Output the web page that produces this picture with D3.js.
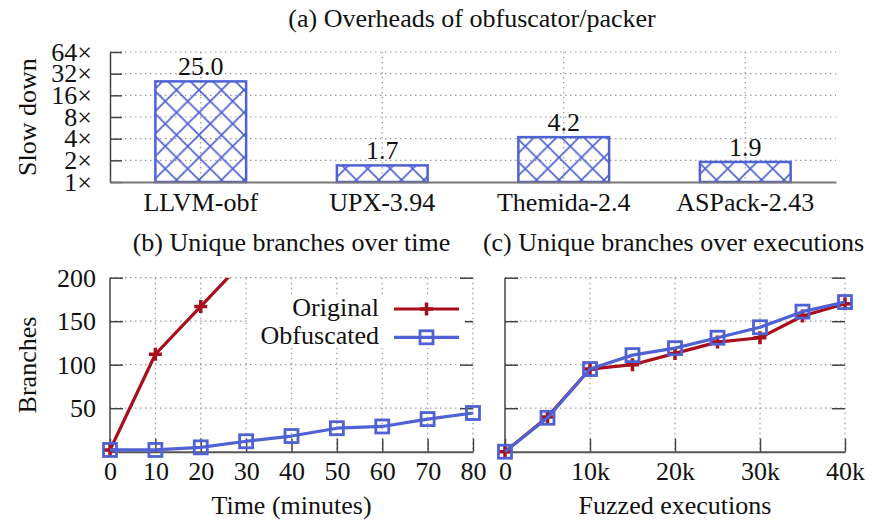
<!DOCTYPE html>
<html><head><meta charset="utf-8">
<script src="https://cdn.jsdelivr.net/npm/d3@7"></script>
<style>
body{margin:0;background:#fff;}
svg{display:block;}
text{font-family:"Liberation Serif","Times New Roman",serif;fill:#111;}
</style></head>
<body>
<svg id="c" width="895" height="525"></svg>
<script>
// ---------- data ----------
const categories = ["LLVM-obf","UPX-3.94","Themida-2.4","ASPack-2.43"];
const slowdown = [25.0, 1.7, 4.2, 1.9];
const slowTicks = [1,2,4,8,16,32,64];

const timeMinutes = [0,10,20,30,40,50,60,70,80];
const origTimeMinutes = [0,10,20,30];
const origTime = [2,112,167,222];
const obfTime = [2,2,5,12,18,27,29,37.5,44.5];
const timeTicks = [0,10,20,30,40,50,60,70,80];

const executions = [0,5000,10000,15000,20000,25000,30000,35000,40000];
const origExec = [0,40,95,100,113,126,131,156,170];
const obfExec = [0,39,95,111,119,131,143,161,172];
const execTicks = [0,10000,20000,30000,40000];
const execTickLabels = ["0","10k","20k","30k","40k"];

const branchTicks = [50,100,150,200];
const seriesNames = ["Original","Obfuscated"];

// ---------- style ----------
const RED = "#a80e1c", BLUE = "#4f62d3", AX = "#444", GRID = "#9a9a9a";
const FS = 26;

const svg = d3.select("#c");
const defs = svg.append("defs");
const pat = defs.append("pattern").attr("id","hatch").attr("patternUnits","userSpaceOnUse")
  .attr("width",22.5).attr("height",22.5).attr("x",154).attr("y",0);
pat.append("path").attr("d","M-2,-2L24.5,24.5M-2,24.5L24.5,-2M-2,20.5L2,24.5M20.5,-2L24.5,2M20.5,24.5L24.5,20.5M-2,2L2,-2")
  .attr("stroke",BLUE).attr("stroke-width",1.7).attr("fill","none");

function styleAxis(g){
  g.attr("font-family",null).attr("font-size",null);
  g.selectAll("path.domain").attr("stroke",AX).attr("stroke-width",1.5);
  g.selectAll(".tick line").attr("stroke",AX).attr("stroke-width",1.5);
  g.selectAll(".tick text").style("font-family",'"Liberation Serif",serif').style("font-size",FS+"px").attr("fill","#111");
}
function dotted(sel){ return sel.attr("stroke",GRID).attr("stroke-width",1.2).attr("stroke-dasharray","1.5,3.5"); }

// ---------- panel (a) ----------
const ax = d3.scaleBand().domain(categories).range([110,836]).paddingInner(0.5).paddingOuter(0.25);
const ay = d3.scaleLog().base(2).domain([1,64]).range([182,52]);

svg.append("text").attr("x",472).attr("y",27).attr("text-anchor","middle").style("font-size",FS+"px")
  .text("(a) Overheads of obfuscator/packer");

const ga = svg.append("g");
ga.selectAll("line.hg").data(slowTicks.slice(1)).join("line").attr("class","hg")
  .attr("x1",110).attr("x2",836).attr("y1",d=>ay(d)).attr("y2",d=>ay(d)).call(dotted);
ga.selectAll("line.vg").data(categories).join("line").attr("class","vg")
  .attr("x1",d=>ax(d)+ax.bandwidth()/2).attr("x2",d=>ax(d)+ax.bandwidth()/2)
  .attr("y1",52).attr("y2",182).call(dotted);

ga.selectAll("rect.bar").data(categories).join("rect").attr("class","bar")
  .attr("x",d=>ax(d)).attr("width",ax.bandwidth())
  .attr("y",(d,i)=>ay(slowdown[i])).attr("height",(d,i)=>ay(1)-ay(slowdown[i]))
  .attr("fill","url(#hatch)").attr("stroke",BLUE).attr("stroke-width",2.5);

ga.selectAll("text.val").data(categories).join("text").attr("class","val")
  .attr("x",d=>ax(d)+ax.bandwidth()/2).attr("y",(d,i)=>ay(slowdown[i])-6)
  .attr("text-anchor","middle").style("font-size",FS+"px")
  .text((d,i)=>slowdown[i].toFixed(1));

svg.append("g").attr("transform","translate(110,0)")
  .call(d3.axisLeft(ay).tickValues(slowTicks).tickFormat(d=>d+"×").tickSize(-12).tickSizeOuter(0).tickPadding(18))
  .call(styleAxis);
svg.append("g").attr("transform","translate(0,182)")
  .call(d3.axisBottom(ax).tickSize(0).tickPadding(10.5))
  .call(styleAxis).call(g=>g.select("path.domain").attr("stroke","#777").attr("stroke-width",2));

svg.append("text").attr("transform","translate(36,117) rotate(-90)").attr("text-anchor","middle")
  .style("font-size",FS+"px").text("Slow down");

// ---------- line panels ----------
function plus(g,x,y){
  g.append("path").attr("d",`M${x-6.5},${y}H${x+6.5}M${x},${y-6.5}V${y+6.5}`).attr("stroke",RED).attr("stroke-width",3.5).attr("fill","none");
}
function square(g,x,y){
  g.append("rect").attr("x",x-6.5).attr("y",y-6.5).attr("width",13).attr("height",13)
    .attr("fill","none").attr("stroke",BLUE).attr("stroke-width",2.8);
}

const by = d3.scaleLinear().domain([0,200]).range([451.7,277.7]);

function panel(xs, x0, x1, xTicks, xLabels, showY, title, titleX, xlabel, series, id){
  const g = svg.append("g");
  g.selectAll("line.hg").data(branchTicks).join("line")
    .attr("x1",x0).attr("x2",x1).attr("y1",d=>by(d)).attr("y2",d=>by(d)).call(dotted);
  g.selectAll("line.vg").data(xTicks.slice(1)).join("line")
    .attr("x1",d=>xs(d)).attr("x2",d=>xs(d)).attr("y1",by(200)).attr("y2",by(0)).call(dotted);
  g.append("g").attr("transform",`translate(${x0},0)`)
    .call(d3.axisLeft(by).tickValues(branchTicks).tickSize(-13).tickSizeOuter(0).tickPadding(14)
      .tickFormat(showY? d3.format("d") : ""))
    .call(styleAxis).call(a=>a.select("path.domain").attr("d",`M0,${by(200)}V${by(0)}`));
  g.append("g").attr("transform",`translate(${x1},0)`)
    .call(d3.axisRight(by).tickValues(branchTicks).tickSize(-13).tickSizeOuter(0).tickFormat(""))
    .call(styleAxis).call(a=>a.select("path.domain").remove());
  g.append("g").attr("transform",`translate(0,${by(0)})`)
    .call(d3.axisBottom(xs).tickValues(xTicks).tickSize(-13).tickSizeOuter(0).tickPadding(9.8)
      .tickFormat((d,i)=>xLabels[i]))
    .call(styleAxis).call(a=>a.select("path.domain").attr("stroke","#555").attr("stroke-width",2));
  defs.append("clipPath").attr("id",id).append("rect")
    .attr("x",x0-10).attr("y",by(200)).attr("width",x1-x0+20).attr("height",by(0)-by(200)+10);
  const pg = g.append("g").attr("clip-path",`url(#${id})`);
  const line = d3.line().x(d=>xs(d[0])).y(d=>by(d[1]));
  series.forEach(s=>{
    const pts = s.x.map((v,i)=>[v,s.y[i]]);
    pg.append("path").datum(pts).attr("d",line).attr("fill","none")
      .attr("stroke",s.color).attr("stroke-width",3.2).attr("stroke-linejoin","round");
    pts.forEach(p=>{ if(by(p[1])>=by(200)-1) s.mark(pg, xs(p[0]), by(p[1])); });
  });
  svg.append("text").attr("x",titleX).attr("y",251).attr("text-anchor","middle")
    .style("font-size",FS+"px").text(title);
  svg.append("text").attr("x",(x0+x1)/2).attr("y",514).attr("text-anchor","middle")
    .style("font-size",FS+"px").text(xlabel);
}

const bx = d3.scaleLinear().domain([0,80]).range([110,473]);
panel(bx,110,473,timeTicks,timeTicks.map(String),true,
  "(b) Unique branches over time",291.5,"Time (minutes)",
  [{x:origTimeMinutes,y:origTime,color:RED,mark:plus},
   {x:timeMinutes,y:obfTime,color:BLUE,mark:square}],"clipb");

const cx = d3.scaleLinear().domain([0,40000]).range([505,845]);
panel(cx,505,845,execTicks,execTickLabels,false,
  "(c) Unique branches over executions",673.5,"Fuzzed executions",
  [{x:executions,y:origExec,color:RED,mark:plus},
   {x:executions,y:obfExec,color:BLUE,mark:square}],"clipc");

svg.append("text").attr("transform","translate(36,365) rotate(-90)").attr("text-anchor","middle")
  .style("font-size",FS+"px").text("Branches");

// legend
const lg = svg.append("g");
const legY = [309,337.3];
const legText = [315.5,344];
lg.append("rect").attr("x",250).attr("y",295).attr("width",215).attr("height",53).attr("fill","#fff");
seriesNames.forEach((n,i)=>{
  lg.append("text").attr("x",379).attr("y",legText[i]).attr("text-anchor","end").style("font-size",FS+"px").text(n);
  lg.append("line").attr("x1",394).attr("x2",459).attr("y1",legY[i]).attr("y2",legY[i])
    .attr("stroke",i===0?RED:BLUE).attr("stroke-width",3.2);
  (i===0?plus:square)(lg,426.5,legY[i]);
});
</script>
</body></html>
